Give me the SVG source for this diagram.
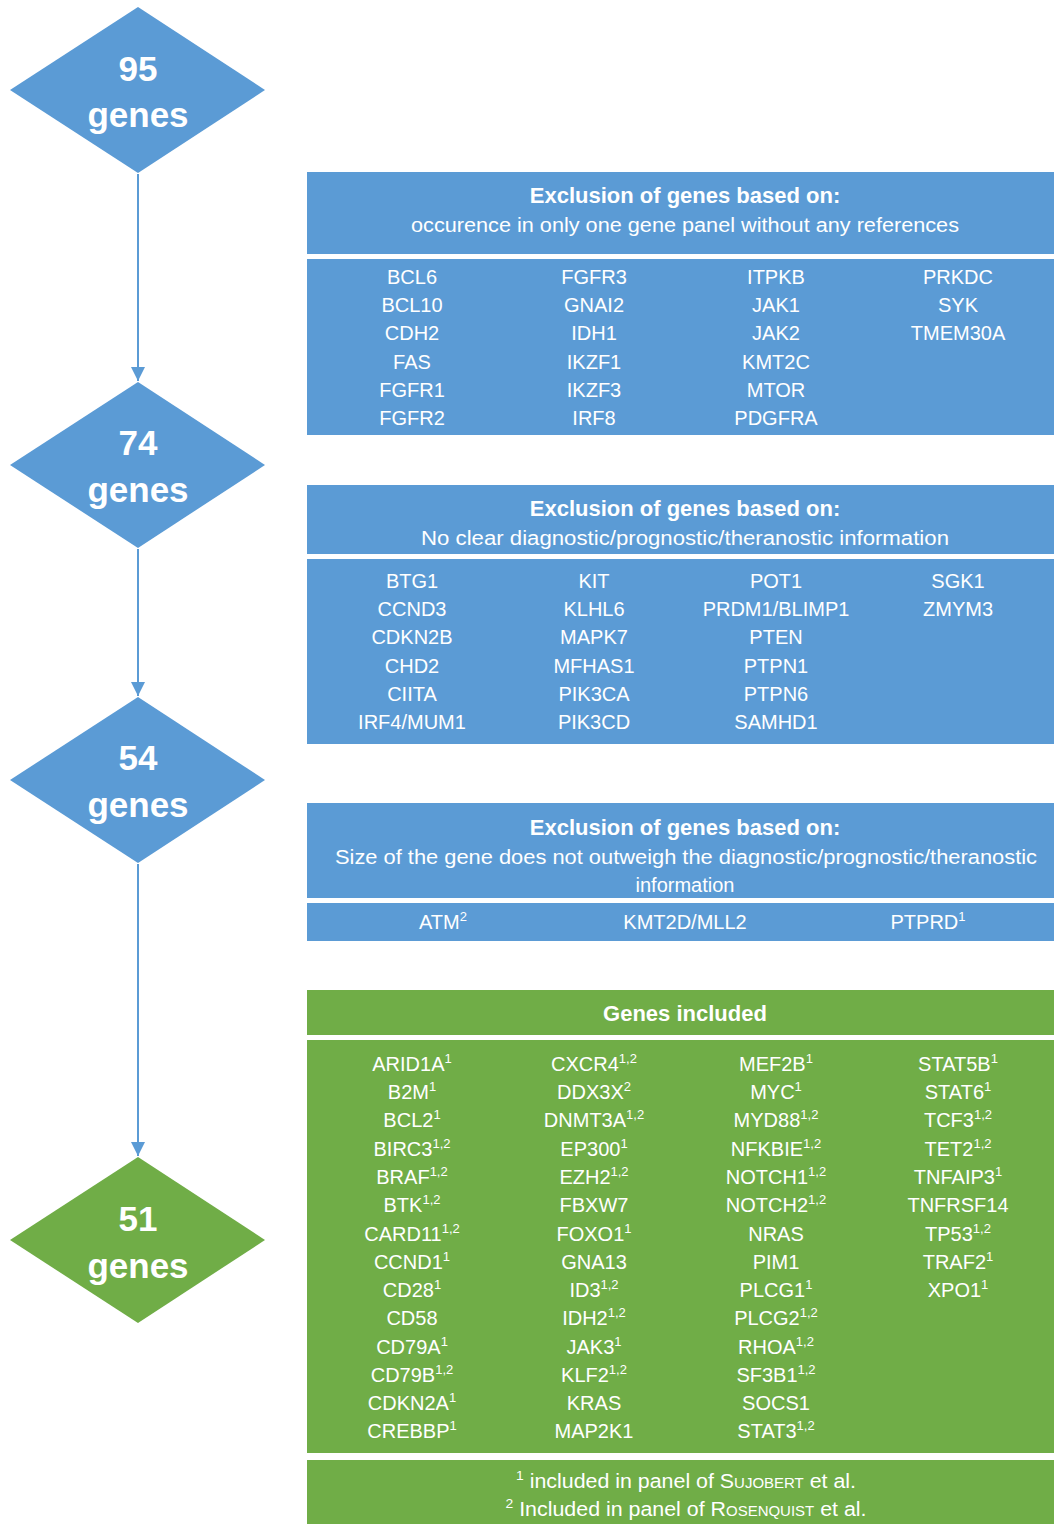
<svg xmlns="http://www.w3.org/2000/svg" width="1054" height="1524" viewBox="0 0 1054 1524">
<defs>
<style>
.blue{fill:#5B9BD5}
.green{fill:#70AD47}
.dt{font-family:"Liberation Sans",Arial,sans-serif;font-weight:bold;font-size:35px;fill:#fff;text-anchor:middle}
.hd{font-family:"Liberation Sans",Arial,sans-serif;font-weight:bold;font-size:22px;fill:#fff;text-anchor:middle}
.sub{font-family:"Liberation Sans",Arial,sans-serif;font-size:20px;fill:#fff;text-anchor:middle}
.g{font-family:"Liberation Sans",Arial,sans-serif;font-size:20px;fill:#fff;text-anchor:middle}
.sup{font-size:13px}
.sc{font-variant:small-caps}
.conn{stroke:#5B9BD5;stroke-width:2;fill:none}
</style>
<marker id="ah" viewBox="0 0 10 10" refX="10" refY="5" markerWidth="7" markerHeight="7" markerUnits="strokeWidth" orient="auto">
<path d="M0,0 L10,5 L0,10 z" fill="#5B9BD5"/>
</marker>
</defs>
<rect width="1054" height="1524" fill="#fff"/>

<g id="connectors">
<line class="conn" x1="138" y1="174" x2="138" y2="381" marker-end="url(#ah)"/>
<line class="conn" x1="138" y1="549" x2="138" y2="696" marker-end="url(#ah)"/>
<line class="conn" x1="138" y1="864" x2="138" y2="1156" marker-end="url(#ah)"/>
</g>

<g id="node-95">
<polygon class="blue" points="138,7 265,90 138,173 10,90"/>
<text class="dt" x="138" y="81">95</text>
<text class="dt" x="138" y="127">genes</text>
</g>
<g id="node-74">
<polygon class="blue" points="138,382 265,465 138,548 10,465"/>
<text class="dt" x="138" y="455">74</text>
<text class="dt" x="138" y="502">genes</text>
</g>
<g id="node-54">
<polygon class="blue" points="138,697 265,780 138,863 10,780"/>
<text class="dt" x="138" y="770">54</text>
<text class="dt" x="138" y="817">genes</text>
</g>
<g id="node-51">
<polygon class="green" points="138,1157 265,1240 138,1323 10,1240"/>
<text class="dt" x="138" y="1231">51</text>
<text class="dt" x="138" y="1278">genes</text>
</g>

<g id="box-exclusion-1">
<rect class="blue" x="307" y="172" width="747" height="82"/>
<text class="hd" x="685" y="203">Exclusion of genes based on:</text>
<text class="sub" x="685" y="232" textLength="548" lengthAdjust="spacingAndGlyphs">occurence in only one gene panel without any references</text>
<rect class="blue" x="307" y="259" width="747" height="176"/>
<g class="g">
<text x="412" y="284">BCL6</text><text x="412" y="312">BCL10</text><text x="412" y="340">CDH2</text><text x="412" y="369">FAS</text><text x="412" y="397">FGFR1</text><text x="412" y="425">FGFR2</text>
<text x="594" y="284">FGFR3</text><text x="594" y="312">GNAI2</text><text x="594" y="340">IDH1</text><text x="594" y="369">IKZF1</text><text x="594" y="397">IKZF3</text><text x="594" y="425">IRF8</text>
<text x="776" y="284">ITPKB</text><text x="776" y="312">JAK1</text><text x="776" y="340">JAK2</text><text x="776" y="369">KMT2C</text><text x="776" y="397">MTOR</text><text x="776" y="425">PDGFRA</text>
<text x="958" y="284">PRKDC</text><text x="958" y="312">SYK</text><text x="958" y="340">TMEM30A</text>
</g>
</g>

<g id="box-exclusion-2">
<rect class="blue" x="307" y="485" width="747" height="69"/>
<text class="hd" x="685" y="516">Exclusion of genes based on:</text>
<text class="sub" x="685" y="545" textLength="528" lengthAdjust="spacingAndGlyphs">No clear diagnostic/prognostic/theranostic information</text>
<rect class="blue" x="307" y="559" width="747" height="185"/>
<g class="g">
<text x="412" y="588">BTG1</text><text x="412" y="616">CCND3</text><text x="412" y="644">CDKN2B</text><text x="412" y="673">CHD2</text><text x="412" y="701">CIITA</text><text x="412" y="729">IRF4/MUM1</text>
<text x="594" y="588">KIT</text><text x="594" y="616">KLHL6</text><text x="594" y="644">MAPK7</text><text x="594" y="673">MFHAS1</text><text x="594" y="701">PIK3CA</text><text x="594" y="729">PIK3CD</text>
<text x="776" y="588">POT1</text><text x="776" y="616">PRDM1/BLIMP1</text><text x="776" y="644">PTEN</text><text x="776" y="673">PTPN1</text><text x="776" y="701">PTPN6</text><text x="776" y="729">SAMHD1</text>
<text x="958" y="588">SGK1</text><text x="958" y="616">ZMYM3</text>
</g>
</g>

<g id="box-exclusion-3">
<rect class="blue" x="307" y="803" width="747" height="95"/>
<text class="hd" x="685" y="835">Exclusion of genes based on:</text>
<text class="sub" x="686" y="864" textLength="702" lengthAdjust="spacingAndGlyphs">Size of the gene does not outweigh the diagnostic/prognostic/theranostic</text>
<text class="sub" x="685" y="892">information</text>
<rect class="blue" x="307" y="903" width="747" height="38"/>
<g class="g">
<text x="443" y="929">ATM<tspan class="sup" dy="-8">2</tspan></text>
<text x="685" y="929">KMT2D/MLL2</text>
<text x="928" y="929">PTPRD<tspan class="sup" dy="-8">1</tspan></text>
</g>
</g>

<g id="box-included">
<rect class="green" x="307" y="990" width="747" height="45"/>
<text class="hd" x="685" y="1021">Genes included</text>
<rect class="green" x="307" y="1040" width="747" height="413"/>
<g class="g">
<text x="412" y="1071">ARID1A<tspan class="sup" dy="-8">1</tspan></text>
<text x="412" y="1099">B2M<tspan class="sup" dy="-8">1</tspan></text>
<text x="412" y="1127">BCL2<tspan class="sup" dy="-8">1</tspan></text>
<text x="412" y="1156">BIRC3<tspan class="sup" dy="-8">1,2</tspan></text>
<text x="412" y="1184">BRAF<tspan class="sup" dy="-8">1,2</tspan></text>
<text x="412" y="1212">BTK<tspan class="sup" dy="-8">1,2</tspan></text>
<text x="412" y="1241">CARD11<tspan class="sup" dy="-8">1,2</tspan></text>
<text x="412" y="1269">CCND1<tspan class="sup" dy="-8">1</tspan></text>
<text x="412" y="1297">CD28<tspan class="sup" dy="-8">1</tspan></text>
<text x="412" y="1325">CD58</text>
<text x="412" y="1354">CD79A<tspan class="sup" dy="-8">1</tspan></text>
<text x="412" y="1382">CD79B<tspan class="sup" dy="-8">1,2</tspan></text>
<text x="412" y="1410">CDKN2A<tspan class="sup" dy="-8">1</tspan></text>
<text x="412" y="1438">CREBBP<tspan class="sup" dy="-8">1</tspan></text>

<text x="594" y="1071">CXCR4<tspan class="sup" dy="-8">1,2</tspan></text>
<text x="594" y="1099">DDX3X<tspan class="sup" dy="-8">2</tspan></text>
<text x="594" y="1127">DNMT3A<tspan class="sup" dy="-8">1,2</tspan></text>
<text x="594" y="1156">EP300<tspan class="sup" dy="-8">1</tspan></text>
<text x="594" y="1184">EZH2<tspan class="sup" dy="-8">1,2</tspan></text>
<text x="594" y="1212">FBXW7</text>
<text x="594" y="1241">FOXO1<tspan class="sup" dy="-8">1</tspan></text>
<text x="594" y="1269">GNA13</text>
<text x="594" y="1297">ID3<tspan class="sup" dy="-8">1,2</tspan></text>
<text x="594" y="1325">IDH2<tspan class="sup" dy="-8">1,2</tspan></text>
<text x="594" y="1354">JAK3<tspan class="sup" dy="-8">1</tspan></text>
<text x="594" y="1382">KLF2<tspan class="sup" dy="-8">1,2</tspan></text>
<text x="594" y="1410">KRAS</text>
<text x="594" y="1438">MAP2K1</text>

<text x="776" y="1071">MEF2B<tspan class="sup" dy="-8">1</tspan></text>
<text x="776" y="1099">MYC<tspan class="sup" dy="-8">1</tspan></text>
<text x="776" y="1127">MYD88<tspan class="sup" dy="-8">1,2</tspan></text>
<text x="776" y="1156">NFKBIE<tspan class="sup" dy="-8">1,2</tspan></text>
<text x="776" y="1184">NOTCH1<tspan class="sup" dy="-8">1,2</tspan></text>
<text x="776" y="1212">NOTCH2<tspan class="sup" dy="-8">1,2</tspan></text>
<text x="776" y="1241">NRAS</text>
<text x="776" y="1269">PIM1</text>
<text x="776" y="1297">PLCG1<tspan class="sup" dy="-8">1</tspan></text>
<text x="776" y="1325">PLCG2<tspan class="sup" dy="-8">1,2</tspan></text>
<text x="776" y="1354">RHOA<tspan class="sup" dy="-8">1,2</tspan></text>
<text x="776" y="1382">SF3B1<tspan class="sup" dy="-8">1,2</tspan></text>
<text x="776" y="1410">SOCS1</text>
<text x="776" y="1438">STAT3<tspan class="sup" dy="-8">1,2</tspan></text>

<text x="958" y="1071">STAT5B<tspan class="sup" dy="-8">1</tspan></text>
<text x="958" y="1099">STAT6<tspan class="sup" dy="-8">1</tspan></text>
<text x="958" y="1127">TCF3<tspan class="sup" dy="-8">1,2</tspan></text>
<text x="958" y="1156">TET2<tspan class="sup" dy="-8">1,2</tspan></text>
<text x="958" y="1184">TNFAIP3<tspan class="sup" dy="-8">1</tspan></text>
<text x="958" y="1212">TNFRSF14</text>
<text x="958" y="1241">TP53<tspan class="sup" dy="-8">1,2</tspan></text>
<text x="958" y="1269">TRAF2<tspan class="sup" dy="-8">1</tspan></text>
<text x="958" y="1297">XPO1<tspan class="sup" dy="-8">1</tspan></text>
</g>
</g>

<g id="legend">
<rect class="green" x="307" y="1460" width="747" height="64"/>
<text class="sub" x="686" y="1488" textLength="340" lengthAdjust="spacingAndGlyphs"><tspan class="sup" dy="-8">1</tspan><tspan dy="8"> included in panel of </tspan><tspan class="sc">Sujobert</tspan> et al.</text>
<text class="sub" x="686" y="1516" textLength="361" lengthAdjust="spacingAndGlyphs"><tspan class="sup" dy="-8">2</tspan><tspan dy="8"> Included in panel of </tspan><tspan class="sc">Rosenquist</tspan> et al.</text>
</g>
</svg>
